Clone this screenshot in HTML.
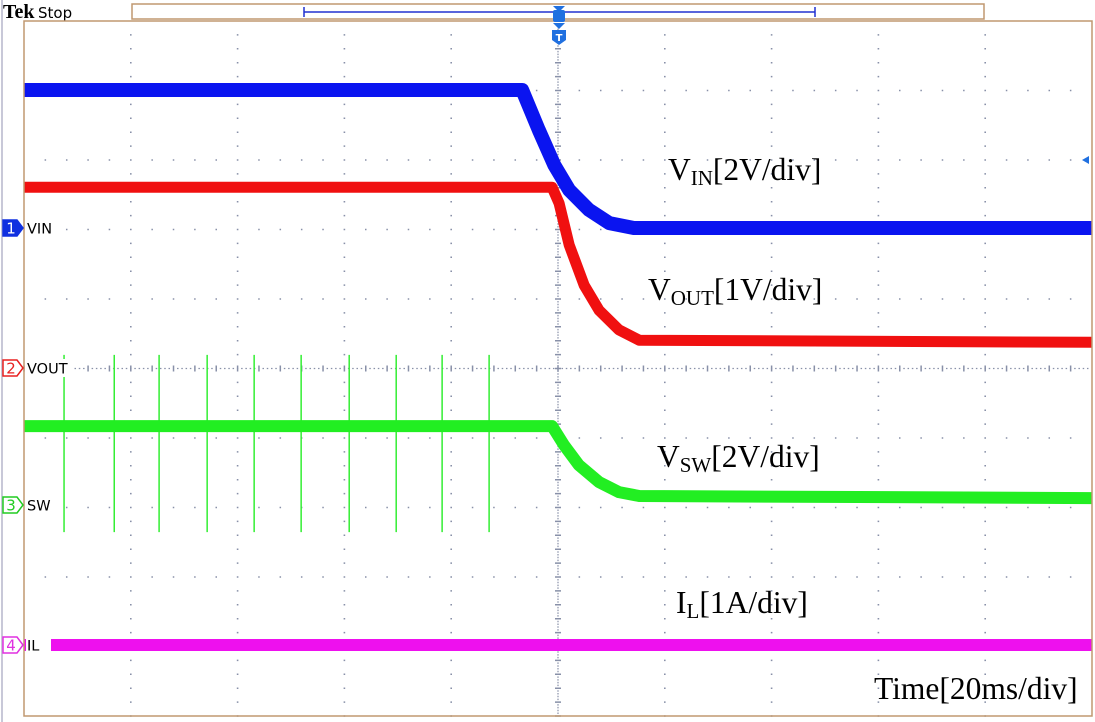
<!DOCTYPE html>
<html><head><meta charset="utf-8">
<style>
html,body{margin:0;padding:0;background:#fff;}
svg{display:block;}
.lab{font-family:"Liberation Serif",serif;font-size:31.5px;fill:#000;}
.sub{font-size:21px;}
.ch{font-family:"DejaVu Sans","Liberation Sans",sans-serif;font-size:14.5px;fill:#000;}
</style></head>
<body>
<svg id="scope" width="1095" height="722" viewBox="0 0 1095 722">
  <rect x="0" y="0" width="1095" height="722" fill="#fff"/>
  <line x1="2" y1="0" x2="2" y2="722" stroke="#c8c8d8" stroke-width="2"/>
  <text x="3" y="18" font-family="Liberation Serif,serif" font-weight="bold" font-size="20">Tek</text>
  <text x="38" y="18" font-family="DejaVu Sans,sans-serif" font-size="15">Stop</text>
  <rect x="132" y="4" width="852" height="15" fill="#fff" stroke="#c09870" stroke-width="1.5"/>
  <line x1="304" y1="12" x2="815" y2="12" stroke="#2030d0" stroke-width="1.5"/>
  <line x1="304" y1="7" x2="304" y2="17" stroke="#2030d0" stroke-width="1.5"/>
  <line x1="815" y1="7" x2="815" y2="17" stroke="#2030d0" stroke-width="1.5"/>
  <g id="grid"></g>
  <g id="traces"></g>
  <rect x="24" y="21" width="1068" height="695" fill="none" stroke="#c09870" stroke-width="1.5"/>
  <g>
    <path d="M553 6 L565 6 L559 12 Z" fill="#2070e0"/>
    <rect x="553" y="10" width="12" height="12" rx="2" fill="#2070e0"/>
    <path d="M553 23 L565 23 L559 29 Z" fill="#2070e0"/>
    <path d="M552 30 L566 30 L566 40 L559 45 L552 40 Z" fill="#2070e0"/>
    <text x="559" y="41" text-anchor="middle" font-family="DejaVu Sans,sans-serif" font-weight="bold" font-size="10" fill="#fff">T</text>
  </g>
  <path d="M1082 160 L1089 156 L1089 164 Z" fill="#2070e0"/>
  <g id="markers"></g>
  <text class="lab" x="668" y="180">V<tspan class="sub" dy="5">IN</tspan><tspan dy="-5">[2V/div]</tspan></text>
  <text class="lab" x="648" y="300">V<tspan class="sub" dy="5">OUT</tspan><tspan dy="-5">[1V/div]</tspan></text>
  <text class="lab" x="657" y="467">V<tspan class="sub" dy="5">SW</tspan><tspan dy="-5">[2V/div]</tspan></text>
  <text class="lab" x="676" y="613">I<tspan class="sub" dy="5">L</tspan><tspan dy="-5">[1A/div]</tspan></text>
  <text class="lab" x="874" y="699">Time[20ms/div]</text>
</svg>
<script>
// time in ms (trigger at 0), values in V/A
const vinT = [-100, -6.7, -3.6, -0.7, 2.1, 5.8, 9.6, 14.2, 100];
const vinV = [3.97, 3.97, 2.82, 1.81, 1.09, 0.52, 0.14, 0.0, 0.0];
const voutT = [-100, -1.1, 0.2, 2.1, 4.9, 7.7, 11.4, 15.2, 100];
const voutV = [2.6, 2.6, 2.37, 1.77, 1.19, 0.83, 0.55, 0.4, 0.37];
const swT = [-100, -1.1, 1.1, 3.9, 7.7, 11.4, 15.2, 100];
const swV = [2.27, 2.27, 1.73, 1.15, 0.66, 0.37, 0.26, 0.2];
const swSpikeT = [-92.5, -83.1, -74.7, -65.7, -56.9, -48.1, -39.1, -30.3, -21.7, -12.9];
const swSpikeHigh = [4.32, 4.32, 4.32, 4.32, 4.32, 4.32, 4.32, 4.32, 4.32, 4.32];
const swSpikeLow = [-0.78, -0.78, -0.78, -0.78, -0.78, -0.78, -0.78, -0.78, -0.78, -0.78];
const ilT = [-100, 100];
const ilV = [0, 0];

const NS='http://www.w3.org/2000/svg';
const X0=24, X1=1092, Y0=21, Y1=716;
const divX=(X1-X0)/10, divY=(Y1-Y0)/10;
function xs(t){return X0+(t+100)/20*divX;}
function ys(v,gnd,vdiv){return gnd - v/vdiv*divY;}
const grid=document.getElementById('grid');
let gd='';
for(let i=1;i<10;i++){
  const x=X0+i*divX;
  for(let y=Y0+divY/5;y<Y1;y+=divY/5) gd+=`M${x-0.8} ${y}h1.6`;
  const y=Y0+i*divY;
  for(let xx=X0+divX/5;xx<X1;xx+=divX/5) gd+=`M${xx} ${y-0.8}v1.6`;
}
const cx=X0+5*divX, cy=Y0+5*divY;
for(let y=Y0;y<Y1;y+=divY/25) gd+=`M${cx-0.6} ${y}h1.2`;
for(let x=X0;x<X1;x+=divX/25) gd+=`M${x} ${cy-0.6}v1.2`;
for(let y=Y0;y<Y1;y+=divY/5) gd+=`M${cx-3} ${y}h6`;
for(let x=X0;x<X1;x+=divX/5) gd+=`M${x} ${cy-3}v6`;
const gp=document.createElementNS(NS,'path');
gp.setAttribute('d',gd);gp.setAttribute('stroke','#8890a8');gp.setAttribute('stroke-width','1.5');


grid.appendChild(gp);

const traces=document.getElementById('traces');
function trace(T,V,gnd,vdiv,color,w,name){
  let d='';
  T.forEach((t,i)=>{d+=(i?'L':'M')+xs(t).toFixed(1)+' '+ys(V[i],gnd,vdiv).toFixed(1);});
  const p=document.createElementNS(NS,'path');
  p.setAttribute('d',d);p.setAttribute('fill','none');p.setAttribute('stroke',color);
  p.setAttribute('stroke-width',w);p.setAttribute('stroke-linejoin','round');
  
  
  traces.appendChild(p);
}
const gSW=505;
swSpikeT.forEach((t,i)=>{
  const l=document.createElementNS(NS,'line');
  l.setAttribute('x1',xs(t));l.setAttribute('x2',xs(t));
  l.setAttribute('y1',ys(swSpikeHigh[i],gSW,2));l.setAttribute('y2',ys(swSpikeLow[i],gSW,2));
  l.setAttribute('stroke','#33ee33');l.setAttribute('stroke-width','1.5');
  
  
  traces.appendChild(l);
});
trace(vinT,vinV,228,2,'#0a14f0',14,'vin-trace');
trace(voutT,voutV,368,1,'#f01010',11,'vout-trace');
trace(swT,swV,gSW,2,'#22ee22',12,'vsw-trace');
trace(ilT,ilV,645,1,'#ee10ee',12,'il-trace');

const mk=document.getElementById('markers');
const chans=[[228,'1','VIN','#1030e0',true,'ch1-marker'],[368,'2','VOUT','#e82020',false,'ch2-marker'],[505,'3','SW','#22cc22',false,'ch3-marker'],[645,'4','IL','#e030e0',false,'ch4-marker']];
chans.forEach(c=>{
  const g=document.createElementNS(NS,'g');
  
  
  const y=c[0];
  const tw=c[2].length*10.5+4;
  g.innerHTML=`<rect x="26" y="${y-9}" width="${tw}" height="18" fill="#fff"/>`+
   `<path d="M3 ${y-8} L17 ${y-8} L23 ${y} L17 ${y+8} L3 ${y+8} Z" fill="${c[4]?c[3]:'#fff'}" stroke="${c[3]}" stroke-width="1.5"/>`+
   `<text x="11" y="${y+5.5}" text-anchor="middle" font-family="DejaVu Sans,sans-serif" font-size="15" fill="${c[4]?'#fff':c[3]}">${c[1]}</text>`+
   `<text class="ch" x="27" y="${y+5.5}">${c[2]}</text>`;
  mk.appendChild(g);
});
</script>
</body></html>
